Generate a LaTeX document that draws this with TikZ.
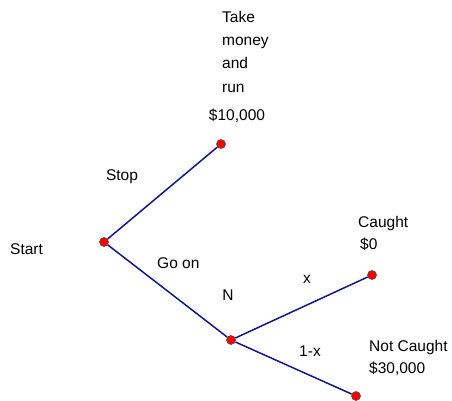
\documentclass[tikz,border=0pt]{standalone}
\usepackage{fontspec}
\setmainfont{Liberation Sans}
\usetikzlibrary{positioning}
\definecolor{navy}{RGB}{20,20,140}
\tikzset{
  pt/.style  ={circle,draw=black!70,fill=red,inner sep=0pt,minimum size=9pt,line width=0.6pt},
  br/.style  ={draw=navy,line width=1.5pt},
  lbl/.style ={font=\fontsize{15.5}{23.3}\selectfont,inner sep=0pt},
}

\begin{document}
\begin{tikzpicture}[x=1pt,y=-1pt]
  \useasboundingbox (0,0) rectangle (452,400);
  % decision points and payoffs
  \node[pt] (S) at (104,242) {};
  \node[pt] (T) at (221,144) {};
  \node[pt] (N) at (231,340) {};
  \node[pt] (C) at (372,275) {};
  \node[pt] (F) at (356,396) {};
  \draw[br] (S) -- (T);
  \draw[br] (S) -- (N);
  \draw[br] (N) -- (C);
  \draw[br] (N) -- (F);
  % texts
  \node[lbl,align=left,anchor=base west] (take) at (222,92) {Take\\money\\and\\run};
  \node[lbl,anchor=base] (tpay) at (237,120) {\$10,000};
  \node[lbl,anchor=base] (stop) at (122,180) {Stop};
  \node[lbl,anchor=base west] (start) at (10,254) {Start};
  \node[lbl,anchor=base west] (goon) at (157,268) {Go on};
  \node[lbl,anchor=base] (nat) at (228,300) {N};
  \node[lbl,anchor=base] (px) at (307,283) {x};
  \node[lbl,anchor=base] (qx) at (310,356) {1-x};
  \node[lbl,anchor=base west] (cgt) at (358,227) {Caught};
  \node[lbl,anchor=base west] (cpay) at (360,249) {\$0};
  \node[lbl,anchor=base west] (ncgt) at (369,351) {Not Caught};
  \node[lbl,anchor=base west] (npay) at (369,373) {\$30,000};
\end{tikzpicture}
\end{document}
